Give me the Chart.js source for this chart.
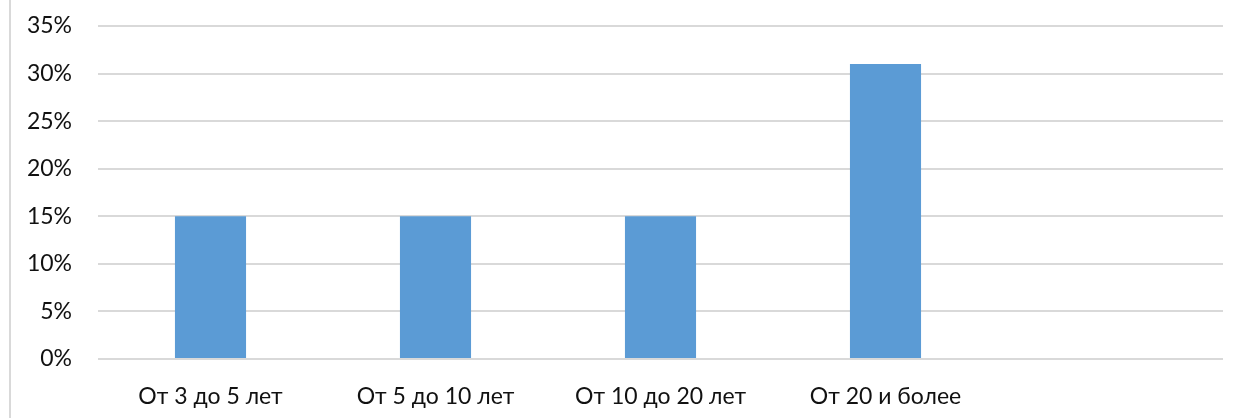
<!DOCTYPE html>
<html>
<head>
<meta charset="utf-8">
<script src="https://cdn.jsdelivr.net/npm/chart.js@4/dist/chart.umd.min.js"></script>
<style>
  html, body { margin: 0; padding: 0; background: #fff; }
  #wrap { position: relative; width: 1242px; height: 418px; }
  #wrap::before {
    content: ''; position: absolute; left: 9px; top: 0; bottom: 0;
    border-left: 2px solid #d9d9d9;
  }
  canvas { display: block; }
</style>
</head>
<body>
<div id="wrap"><canvas id="expChart" width="1242" height="418"></canvas></div>
<script>
// Стаж работы респондентов
const categories = ['От 3 до 5 лет', 'От 5 до 10 лет', 'От 10 до 20 лет', 'От 20 и более', ''];
const shares = [15, 15, 15, 31, null];
const yTicks = [0, 5, 10, 15, 20, 25, 30, 35];

document.addEventListener('DOMContentLoaded', function() {
    const ctx = document.getElementById('expChart').getContext('2d');

    new Chart(ctx, {
        type: 'bar',
        data: {
            labels: categories,
            datasets: [{
                data: shares,
                backgroundColor: '#5b9bd5',
                borderWidth: 0,
                barPercentage: 1,
                categoryPercentage: 0.316
            }]
        },
        options: {
            responsive: false,
            animation: false,
            layout: { padding: { left: 0, right: 19, top: 26, bottom: 0 } },
            plugins: {
                legend: { display: false },
                tooltip: { enabled: false }
            },
            scales: {
                y: {
                    min: yTicks[0],
                    max: yTicks[yTicks.length - 1],
                    afterBuildTicks: function(axis) {
                        axis.ticks = yTicks.map(v => ({ value: v }));
                    },
                    afterFit: function(axis) {
                        axis.width = 98;
                        axis.paddingTop = 0;
                        axis.paddingBottom = 0;
                    },
                    border: { display: false },
                    grid: { color: '#d9d9d9', lineWidth: 2, drawTicks: false },
                    ticks: {
                        padding: 26,
                        color: '#111',
                        font: { family: 'Lato', size: 23 },
                        callback: function(value) { return value + '%'; }
                    }
                },
                x: {
                    afterFit: function(axis) { axis.height = 59; },
                    border: { display: false },
                    grid: { display: false },
                    ticks: {
                        padding: 16,
                        maxRotation: 0,
                        autoSkip: false,
                        color: '#111',
                        font: { family: 'Lato', size: 23 }
                    }
                }
            }
        }
    });
});
</script>
</body>
</html>
